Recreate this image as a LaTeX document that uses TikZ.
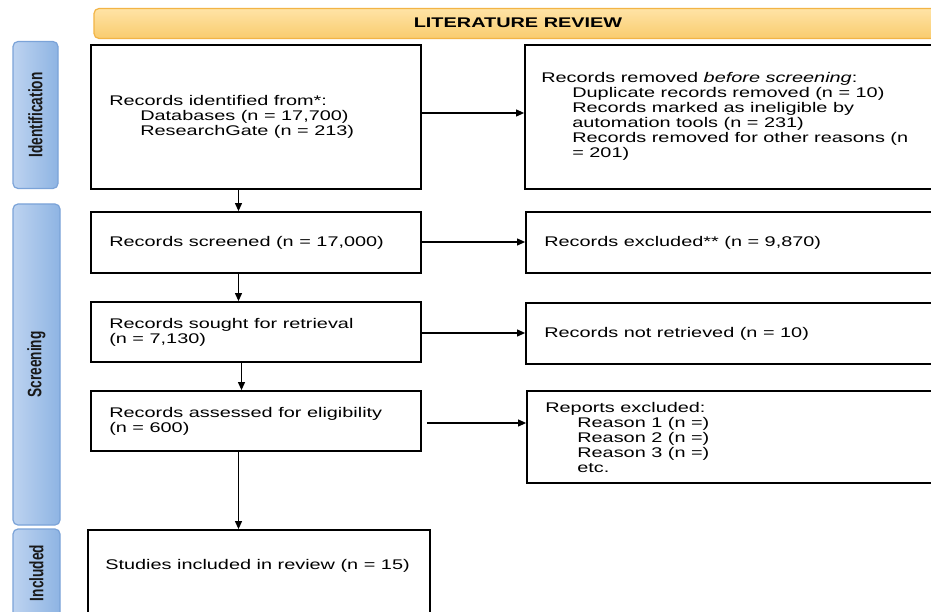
\documentclass[tikz,border=0pt]{standalone}
\usepackage{fontspec}
\usepackage{graphicx}
\setmainfont{Liberation Sans}[FakeStretch=1.42]
\newfontfamily\sidefont{Liberation Sans}
\usetikzlibrary{arrows.meta}
\definecolor{hdrtop}{HTML}{FFE3A6}
\definecolor{hdrbot}{HTML}{F9CC6E}
\definecolor{hdrline}{HTML}{F2B445}
\definecolor{sideL}{HTML}{BDD3F0}
\definecolor{sideR}{HTML}{8EB4E3}
\definecolor{sideline}{HTML}{7BA3D8}
\tikzset{
  box/.style={draw=black, line width=1.8pt, inner sep=0pt},
  txt/.style={font=\fontsize{14}{15}\selectfont, align=left, inner sep=0pt, anchor=west},
  sidebar/.style={draw=sideline, line width=1.2pt, rounded corners=5pt, left color=sideL, right color=sideR},
  sidelbl/.style={font=\sidefont\bfseries\fontsize{13.7}{14}\selectfont, text=black!90, rotate=90, inner sep=0pt},
  arr/.style={line width=1.1pt, -{Triangle[length=8pt,width=7pt]}}
}
\begin{document}
\begin{tikzpicture}[x=1pt,y=-1pt]
\clip (0,0) rectangle (931,612);
\fill[white] (0,0) rectangle (931,612);
% header
\node[draw=hdrline, line width=1.2pt, rounded corners=5pt, top color=hdrtop, bottom color=hdrbot,
      minimum width=860pt, minimum height=30pt, inner sep=0pt] (hdr) at (524,23.5) {};
\node[font=\bfseries\fontsize{14}{15}\selectfont, inner sep=0pt] (hdrt) at (518,23) {LITERATURE REVIEW};
% side bars
\node[sidebar, minimum width=45pt, minimum height=147pt, inner sep=0pt] (sid) at (35.5,115) {};
\node[sidelbl] (sidt) at (sid.center) {\scalebox{1}[1.42]{Identification}};
\node[sidebar, minimum width=47pt, minimum height=321pt, inner sep=0pt] (sscr) at (36.5,364.5) {};
\node[sidelbl] (sscrt) at (sscr.center) {\scalebox{1}[1.42]{Screening}};
\node[sidebar, minimum width=47pt, minimum height=100pt, inner sep=0pt] (sinc) at (36.5,579) {};
\node[sidelbl] (sinct) at (36.5,573) {\scalebox{1}[1.42]{Included}};
% boxes
\node[box, minimum width=330pt, minimum height=144pt] (idb) at (256,117) {};
\node[box, minimum width=420pt, minimum height=144pt] (remb) at (735,117) {};
\node[box, minimum width=330pt, minimum height=61pt] (scrb) at (256,242.5) {};
\node[box, minimum width=419pt, minimum height=61pt] (excb) at (735.5,242.5) {};
\node[box, minimum width=330pt, minimum height=60pt] (sgtb) at (256,332) {};
\node[box, minimum width=419pt, minimum height=61pt] (nrb) at (735.5,333.5) {};
\node[box, minimum width=330pt, minimum height=60pt] (asb) at (256,421) {};
\node[box, minimum width=418pt, minimum height=92pt] (rexb) at (736,437) {};
\node[box, minimum width=342pt, minimum height=100pt] (incb) at (259,580) {};
% texts
\node[txt] (idt) at ([xshift=19pt]idb.west) {Records identified from*:\\\hspace*{31pt}Databases (n = 17,700)\\\hspace*{31pt}ResearchGate (n = 213)};
\node[txt] (remt) at ([xshift=17pt,yshift=1pt]remb.west) {Records removed \textit{before screening}:\\\hspace*{31pt}Duplicate records removed (n = 10)\\\hspace*{31pt}Records marked as ineligible by\\\hspace*{31pt}automation tools (n = 231)\\\hspace*{31pt}Records removed for other reasons (n\\\hspace*{31pt}= 201)};
\node[txt] (scrt) at ([xshift=19pt]scrb.west) {Records screened (n = 17,000)};
\node[txt] (exct) at ([xshift=19pt]excb.west) {Records excluded** (n = 9,870)};
\node[txt] (sgtt) at ([xshift=19pt]sgtb.west) {Records sought for retrieval\\(n = 7,130)};
\node[txt] (nrt) at ([xshift=19pt]nrb.west) {Records not retrieved (n = 10)};
\node[txt] (ast) at ([xshift=19pt]asb.west) {Records assessed for eligibility\\(n = 600)};
\node[txt] (rext) at ([xshift=19pt]rexb.west) {Reports excluded:\\\hspace*{32pt}Reason 1 (n =)\\\hspace*{32pt}Reason 2 (n =)\\\hspace*{32pt}Reason 3 (n =)\\\hspace*{32pt}etc.};
\node[txt] (inct) at ([xshift=18pt,yshift=14pt]incb.west) {Studies included in review (n = 15)};
% arrow guide coordinates
\coordinate (ax1) at (238.5,0);
\coordinate (ax2) at (238.5,0);
\coordinate (ax3) at (241.5,0);
\coordinate (ax4) at (238.5,0);
\coordinate (ay1) at (0,113);
\coordinate (ay2) at (0,242);
\coordinate (ay3) at (0,333);
\coordinate (ay4) at (0,423);
% vertical arrows
\draw[arr] (idb.south -| ax1) -- (scrb.north -| ax1);
\draw[arr] (scrb.south -| ax2) -- (sgtb.north -| ax2);
\draw[arr] (sgtb.south -| ax3) -- (asb.north -| ax3);
\draw[arr] (asb.south -| ax4) -- (incb.north -| ax4);
% horizontal arrows
\draw[arr] (idb.east |- ay1) -- (remb.west |- ay1);
\draw[arr] (scrb.east |- ay2) -- (excb.west |- ay2);
\draw[arr] (sgtb.east |- ay3) -- (nrb.west |- ay3);
\draw[arr] ([xshift=5pt]asb.east |- ay4) -- (rexb.west |- ay4);
\end{tikzpicture}
\end{document}
